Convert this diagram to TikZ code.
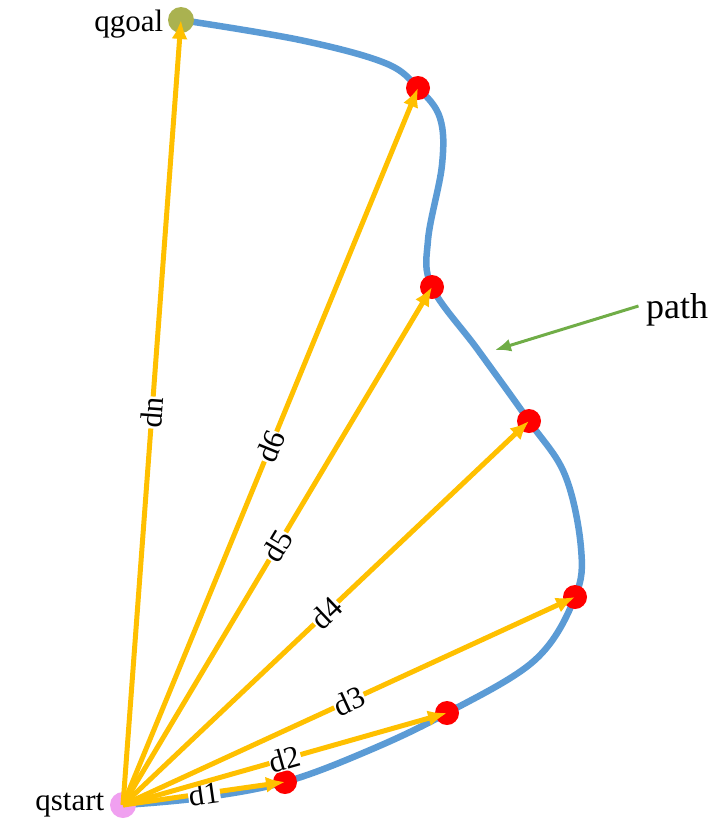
\documentclass[tikz,border=0pt]{standalone}
\usepackage{fontspec}
\setmainfont{Liberation Serif}
\usepackage{tikz}
\usetikzlibrary{arrows.meta,positioning}

\definecolor{pathblue}{RGB}{91,155,213}
\definecolor{distorange}{RGB}{255,192,0}
\definecolor{startpink}{RGB}{240,160,240}
\definecolor{goalolive}{RGB}{170,178,80}
\definecolor{notegreen}{RGB}{112,173,71}

\begin{document}
\begin{tikzpicture}[
    x=1pt, y=-1pt,
    font=\fontsize{31}{34}\selectfont,
    >=Latex,
    wayp/.style={circle, fill=red, inner sep=0pt, minimum size=24pt},
    endp/.style={circle, inner sep=0pt, minimum size=26pt},
    dist/.style={draw=distorange, line width=5pt, {-Latex[length=19pt,width=16pt]}},
    dlabel/.style={sloped, pos=0.5, fill=white, inner sep=0.5pt, text=black},
    curve/.style={draw=pathblue, line width=6.5pt, line cap=round}
]
\useasboundingbox (0,0) rectangle (715,825);

\coordinate (s)  at (123,805);
\coordinate (g)  at (181,20);
\coordinate (p1) at (285,782);
\coordinate (p2) at (447,713);
\coordinate (p3) at (575,597);
\coordinate (p4) at (529,421);
\coordinate (p5) at (432,287);
\coordinate (p6) at (418,88);

% the path
\draw[curve] plot[smooth, tension=0.6] coordinates {
    (s) (200,798) (p1) (370,750) (p2) (535,660) (p3) (581,548) (565,475)
    (p4) (478,350) (p5) (428,240) (442,165) (440,118) (p6) (385,63) (300,40) (g)};

\node[endp, fill=startpink] (start) at (s) {};
\node[endp, fill=goalolive] (goal) at (g) {};
\foreach \i in {1,...,6}
    \node[wayp] (w\i) at (p\i) {};

\node[left=2pt of start] {qstart};
\node[left=1pt of goal, yshift=-4pt] {qgoal};

% distances
\draw[dist] (s) -- (p1) node[dlabel] {d1};
\draw[dist] (s) -- (p2) node[dlabel] {d2};
\draw[dist] (s) -- (p3) node[dlabel] {d3};
\draw[dist] (s) -- (p4) node[dlabel] {d4};
\draw[dist] (s) -- (p5) node[dlabel] {d5};
\draw[dist] (s) -- (p6) node[dlabel] {d6};
\draw[dist] (s) -- (g) node[dlabel] {dn};

\node[font=\fontsize{36}{40}\selectfont] (note) at (677,310) {path};
\coordinate (hit) at (495,350);
\draw[notegreen, line width=3pt, {-Latex[length=16pt,width=13pt]}] (note.west) ++(-4pt,4pt) -- (hit);
\end{tikzpicture}
\end{document}
